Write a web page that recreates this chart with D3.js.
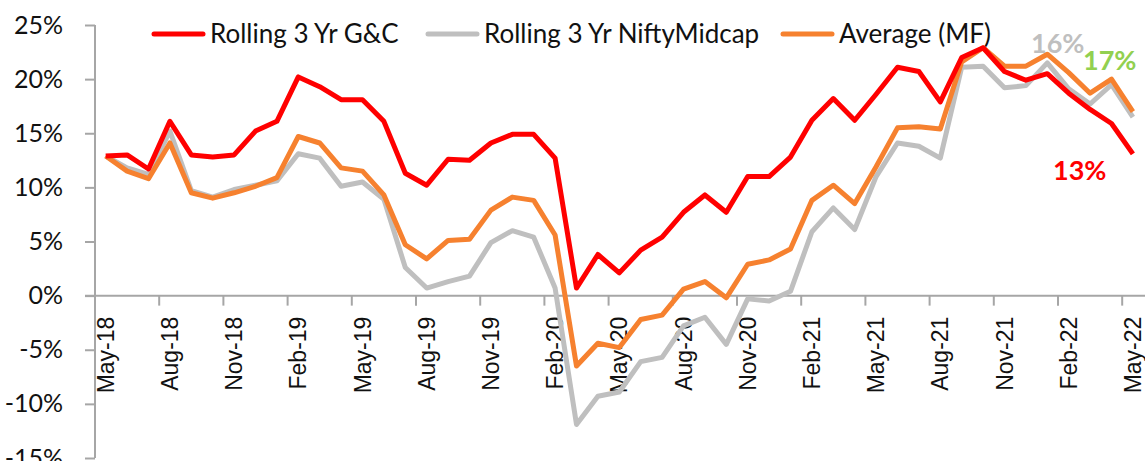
<!DOCTYPE html>
<meta charset="utf-8">
<style>
	body { margin: 0; background: #fff; }
	.axis path, .axis line { stroke: #a6a6a6; stroke-width: 2; }
	.ylab text { font-family: Lato, sans-serif; font-size: 25px; fill: #111; }
	.xlab text { font-family: "Liberation Sans", Arial, sans-serif; font-size: 23px; fill: #111; }
	.legend text { font-family: Lato, sans-serif; font-size: 26px; fill: #111; }
	.note { font-family: Lato, sans-serif; font-size: 27px; font-weight: bold; }
</style>

<div class="chart"></div>

<script src="https://d3js.org/d3.v7.min.js"></script>

<script>
	var months = ["May-18","Jun-18","Jul-18","Aug-18","Sep-18","Oct-18","Nov-18","Dec-18",
		"Jan-19","Feb-19","Mar-19","Apr-19","May-19","Jun-19","Jul-19","Aug-19","Sep-19","Oct-19","Nov-19","Dec-19",
		"Jan-20","Feb-20","Mar-20","Apr-20","May-20","Jun-20","Jul-20","Aug-20","Sep-20","Oct-20","Nov-20","Dec-20",
		"Jan-21","Feb-21","Mar-21","Apr-21","May-21","Jun-21","Jul-21","Aug-21","Sep-21","Oct-21","Nov-21","Dec-21",
		"Jan-22","Feb-22","Mar-22","Apr-22","May-22"];

	var gnc = [12.9,13.0,11.7,16.1,13.0,12.8,13.0,15.2,16.1,20.2,
		19.3,18.1,18.1,16.1,11.3,10.2,12.6,12.5,14.1,14.9,
		14.9,12.7,0.7,3.8,2.1,4.2,5.4,7.7,9.3,7.7,
		11.0,11.0,12.8,16.2,18.2,16.2,18.6,21.1,20.7,17.9,
		22.0,22.9,20.7,19.9,20.5,18.7,17.2,15.9,13.1];

	var niftyMidcap = [12.9,11.8,11.2,15.2,9.7,9.1,9.8,10.2,10.6,13.1,
		12.7,10.1,10.5,8.9,2.6,0.7,1.3,1.8,4.9,6.0,
		5.4,0.7,-11.9,-9.3,-8.9,-6.1,-5.7,-2.8,-2.0,-4.5,
		-0.3,-0.5,0.4,5.9,8.1,6.1,11.0,14.1,13.8,12.7,
		21.1,21.2,19.2,19.4,21.5,19.1,17.7,19.5,16.5];

	var avgMF = [12.9,11.5,10.8,14.1,9.5,9.0,9.5,10.1,10.9,14.7,
		14.1,11.8,11.5,9.3,4.7,3.4,5.1,5.2,7.9,9.1,
		8.8,5.6,-6.5,-4.4,-4.8,-2.2,-1.8,0.6,1.3,-0.2,
		2.9,3.3,4.3,8.8,10.2,8.5,11.9,15.5,15.6,15.4,
		21.6,22.9,21.2,21.2,22.3,20.6,18.7,20.0,17.0];

	var yTicks = [-15,-10,-5,0,5,10,15,20,25];
	var xTickLabels = months.filter(function(d, i) { return i % 3 === 0; });

	var series = [
		{name: "Rolling 3 Yr NiftyMidcap", values: niftyMidcap, color: "#bfbfbf"},
		{name: "Average (MF)", values: avgMF, color: "#f6812f"},
		{name: "Rolling 3 Yr G&C", values: gnc, color: "#ff0000"}
	];

	var width = 1145, height = 461;
	var plotLeft = 95, plotTop = 25, plotBottom = 458;

	var svg = d3.select(".chart").append("svg")
		.attr("width", width)
		.attr("height", height);

	var x = d3.scaleBand()
		.domain(months)
		.range([plotLeft, plotLeft + months.length * 21.4]);

	var y = d3.scaleLinear()
		.domain([-15, 25])
		.range([plotBottom, plotTop]);

	// y axis
	var yAxis = svg.append("g")
		.attr("class", "axis ylab")
		.attr("transform", "translate(" + plotLeft + ",0)")
		.call(d3.axisLeft(y).tickValues(yTicks).tickSize(10).tickPadding(22)
			.tickFormat(function(d) { return d + "%"; }));
	yAxis.select(".domain").attr("d", "M0," + plotTop + "V" + plotBottom);

	// x axis at zero, ticks at band edges
	var xAxis = svg.append("g")
		.attr("class", "axis")
		.attr("transform", "translate(0," + y(0) + ")");
	xAxis.append("line")
		.attr("x1", plotLeft - 10).attr("x2", width)
		.attr("y1", 0).attr("y2", 0);
	xAxis.selectAll(".tk")
		.data(xTickLabels)
		.enter().append("line")
		.attr("class", "tk")
		.attr("x1", function(d) { return x(d); })
		.attr("x2", function(d) { return x(d); })
		.attr("y1", 0).attr("y2", 10);

	svg.append("g")
		.attr("class", "xlab")
		.selectAll("text")
		.data(xTickLabels)
		.enter().append("text")
		.attr("transform", function(d) {
			return "translate(" + (x(d) + x.bandwidth() / 2) + "," + (y(0) + 21) + ") rotate(-90)";
		})
		.attr("dy", "0.35em")
		.attr("text-anchor", "end")
		.text(function(d) { return d; });

	// lines
	var line = d3.line()
		.x(function(d, i) { return x(months[i]) + x.bandwidth() / 2; })
		.y(function(d) { return y(d); });

	svg.selectAll(".series")
		.data(series)
		.enter().append("path")
		.attr("class", "series")
		.attr("d", function(s) { return line(s.values); })
		.attr("fill", "none")
		.attr("stroke", function(s) { return s.color; })
		.attr("stroke-width", 5)
		.attr("stroke-linejoin", "round");

	// legend
	var legendItems = [
		{label: "Rolling 3 Yr G&C", color: "#ff0000", x: 152},
		{label: "Rolling 3 Yr NiftyMidcap", color: "#bfbfbf", x: 426},
		{label: "Average (MF)", color: "#f6812f", x: 781}
	];
	var legend = svg.append("g").attr("class", "legend")
		.selectAll("g")
		.data(legendItems)
		.enter().append("g")
		.attr("transform", function(d) { return "translate(" + d.x + ",34)"; });
	legend.append("line")
		.attr("x1", 2).attr("x2", 51)
		.attr("stroke", function(d) { return d.color; })
		.attr("stroke-width", 5)
		.attr("stroke-linecap", "round");
	legend.append("text")
		.attr("x", 58)
		.attr("y", 9)
		.text(function(d) { return d.label; });

	// end labels
	var notes = [
		{text: "16%", color: "#bfbfbf", x: 1031, y: 53},
		{text: "17%", color: "#92d050", x: 1083, y: 70},
		{text: "13%", color: "#ff0000", x: 1053, y: 180}
	];
	svg.selectAll(".note")
		.data(notes)
		.enter().append("text")
		.attr("class", "note")
		.attr("x", function(d) { return d.x; })
		.attr("y", function(d) { return d.y; })
		.attr("fill", function(d) { return d.color; })
		.text(function(d) { return d.text; });
</script>
